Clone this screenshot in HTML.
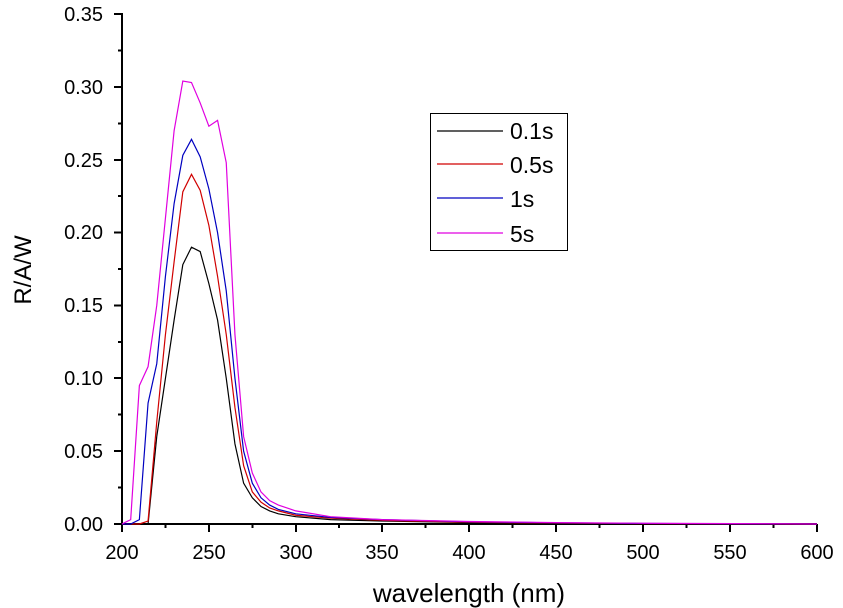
<!DOCTYPE html>
<html><head><meta charset="utf-8"><style>
html,body{margin:0;padding:0;background:#fff}
svg{display:block}
text{font-family:"Liberation Sans",Arial,sans-serif;fill:#000}
</style></head><body>
<svg width="843" height="608" viewBox="0 0 843 608" xmlns="http://www.w3.org/2000/svg">
<g stroke="#000" stroke-width="2" fill="none">
<line x1="122" y1="13" x2="122" y2="525"/>
<line x1="121" y1="524" x2="817" y2="524"/>
<path d="M114 524H122M114 451H122M114 378H122M114 305.5H122M114 232.5H122M114 160H122M114 87H122M114 14H122"/>
<path d="M118 487.5H122M118 414.5H122M118 342H122M118 269H122M118 196H122M118 123.5H122M118 50.5H122"/>
<path d="M122 524V532M209 524V532M296 524V532M382 524V532M469 524V532M556 524V532M643 524V532M730 524V532M817 524V532"/>
<path d="M165.5 524V528M252.5 524V528M339 524V528M425.5 524V528M512.5 524V528M599.5 524V528M686.5 524V528M773.5 524V528"/>
</g>
<g font-size="20" text-anchor="end">
<text x="103" y="531">0.00</text><text x="103" y="458">0.05</text><text x="103" y="385">0.10</text>
<text x="103" y="312">0.15</text><text x="103" y="239">0.20</text><text x="103" y="167">0.25</text>
<text x="103" y="94">0.30</text><text x="103" y="21">0.35</text>
</g>
<g font-size="20" text-anchor="middle">
<text x="122" y="559">200</text><text x="209" y="559">250</text><text x="296" y="559">300</text>
<text x="382" y="559">350</text><text x="469" y="559">400</text><text x="556" y="559">450</text>
<text x="643" y="559">500</text><text x="730" y="559">550</text><text x="817" y="559">600</text>
</g>
<text x="469" y="602" font-size="26" text-anchor="middle">wavelength (nm)</text>
<text transform="translate(31,270) rotate(-90)" font-size="24" text-anchor="middle">R/A/W</text>
<g transform="translate(122,524) scale(1.7375,-1457)" fill="none" stroke-width="1.2">
<polyline vector-effect="non-scaling-stroke" stroke="#000" points="0,0 10,0 15,0 20,0.06 25,0.1 30,0.14 35,0.178 40,0.19 45,0.187 50,0.165 55,0.14 60,0.1 65,0.055 70,0.028 75,0.018 80,0.012 85,0.009 90,0.007 100,0.005 120,0.003 150,0.002 200,0.001 250,0.0005 300,0.0002 400,0"/>
<polyline vector-effect="non-scaling-stroke" stroke="#d00000" points="0,0 10,0 15,0.002 20,0.07 25,0.13 30,0.18 35,0.228 40,0.24 45,0.229 50,0.205 55,0.17 60,0.13 65,0.08 70,0.04 75,0.022 80,0.015 85,0.011 90,0.009 100,0.006 120,0.004 150,0.0025 200,0.0012 250,0.0006 300,0.0003 400,0"/>
<polyline vector-effect="non-scaling-stroke" stroke="#0000c0" points="0,0 5,0 10,0.003 15,0.083 20,0.11 25,0.17 30,0.22 35,0.253 40,0.264 45,0.252 50,0.23 55,0.2 60,0.16 65,0.1 70,0.05 75,0.028 80,0.018 85,0.013 90,0.01 100,0.007 120,0.0045 150,0.003 200,0.0015 250,0.0008 300,0.0004 400,0"/>
<polyline vector-effect="non-scaling-stroke" stroke="#e000e0" points="0,0 5,0.003 10,0.095 15,0.108 20,0.15 25,0.21 30,0.27 35,0.304 40,0.303 45,0.289 50,0.273 55,0.277 60,0.248 65,0.13 70,0.06 75,0.035 80,0.022 85,0.016 90,0.013 100,0.009 120,0.005 150,0.003 200,0.0017 250,0.001 300,0.0005 400,0"/>
</g>
<rect x="430.5" y="113.5" width="137" height="137" fill="#fff" stroke="#000" stroke-width="1"/>
<g stroke-width="1.2">
<line x1="437" y1="131" x2="503" y2="131" stroke="#000"/>
<line x1="437" y1="164" x2="503" y2="164" stroke="#d00000"/>
<line x1="437" y1="198" x2="503" y2="198" stroke="#0000c0"/>
<line x1="437" y1="233" x2="503" y2="233" stroke="#e000e0"/>
</g>
<g font-size="23">
<text x="510" y="139">0.1s</text><text x="510" y="173">0.5s</text>
<text x="510" y="207">1s</text><text x="510" y="242">5s</text>
</g>
</svg>
</body></html>
